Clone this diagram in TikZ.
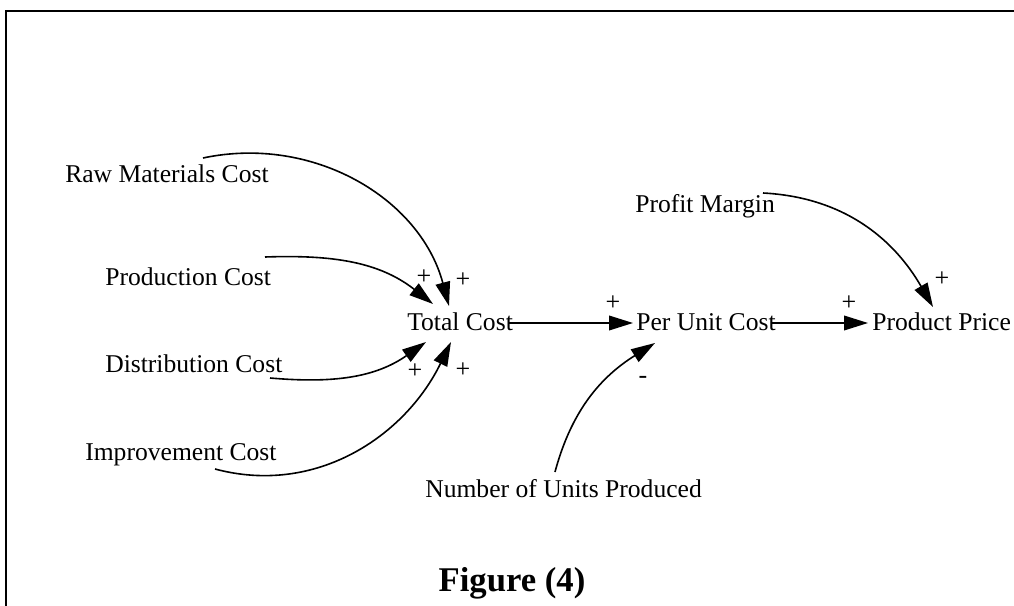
\documentclass[tikz,border=0pt]{standalone}
\usepackage{fontspec}
\setmainfont{Liberation Serif}
\usetikzlibrary{arrows.meta}
\begin{document}
\begin{tikzpicture}[x=0.75pt,y=0.75pt,
  var/.style={inner sep=0pt, anchor=base west, font=\fontsize{19.2}{23}\selectfont},
  pol/.style={inner sep=0pt, font=\fontsize{19.5}{23}\selectfont},
  link/.style={line width=1.2pt, -{Triangle[length=18pt,width=11pt]}},
  frame/.style={line width=1.7pt}]
\useasboundingbox (0,0) rectangle (1014,-606);
% open frame: left and top edges only
\draw[frame] (6,-606) -- (6,-11) -- (1014,-11);

% variables
\node[var] (raw)    at (65,-183)  {Raw Materials Cost};
\node[var] (prod)   at (105,-285) {Production Cost};
\node[var] (dist)   at (105,-372) {Distribution Cost};
\node[var] (impr)   at (85,-460)  {Improvement Cost};
\node[var] (total)  at (407,-330) {Total Cost};
\node[var] (unit)   at (636,-330) {Per Unit Cost};
\node[var] (price)  at (872,-330) {Product Price};
\node[var] (margin) at (635,-213) {Profit Margin};
\node[var] (units)  at (425,-497) {Number of Units Produced};

% caption
\node[inner sep=0pt, anchor=base, font=\bfseries\fontsize{26}{30}\selectfont] (fig) at (512,-591) {Figure (4)};

% causal links
\draw[link] ([shift={(138,25)}]raw.base west) to[out=12,in=105] ([shift={(42,24)}]total.base west);
\draw[link] ([shift={(160,28)}]prod.base west) to[out=2,in=142] ([shift={(26,26)}]total.base west);
\draw[link] ([shift={(165,-6)}]dist.base west) to[out=-5,in=215] ([shift={(19,-12)}]total.base west);
\draw[link] ([shift={(130,-9)}]impr.base west) to[out=-15,in=244] ([shift={(44,-12)}]total.base west);
\draw[link] ([shift={(-5,7)}]total.base east) -- ([shift={(-3,7)}]unit.base west);
\draw[link] ([shift={(-5,7)}]unit.base east) -- ([shift={(-4,7)}]price.base west);
\draw[link] ([shift={(130,25)}]units.base west) to[out=75,in=212] ([shift={(19,-13)}]unit.base west);
\draw[link] ([shift={(128,20)}]margin.base west) to[out=-3,in=120] ([shift={(61,23)}]price.base west);

% link polarities
\node[pol] (s1) at (424,-277) {+};
\node[pol] (s2) at (463,-280) {+};
\node[pol] (s3) at (415,-371) {+};
\node[pol] (s4) at (463,-370) {+};
\node[pol] (s5) at (613,-303) {+};
\node[pol, anchor=base] (s6) at (643,-383) {-};
\node[pol] (s7) at (849,-303) {+};
\node[pol] (s8) at (942,-279) {+};
\end{tikzpicture}
\end{document}
